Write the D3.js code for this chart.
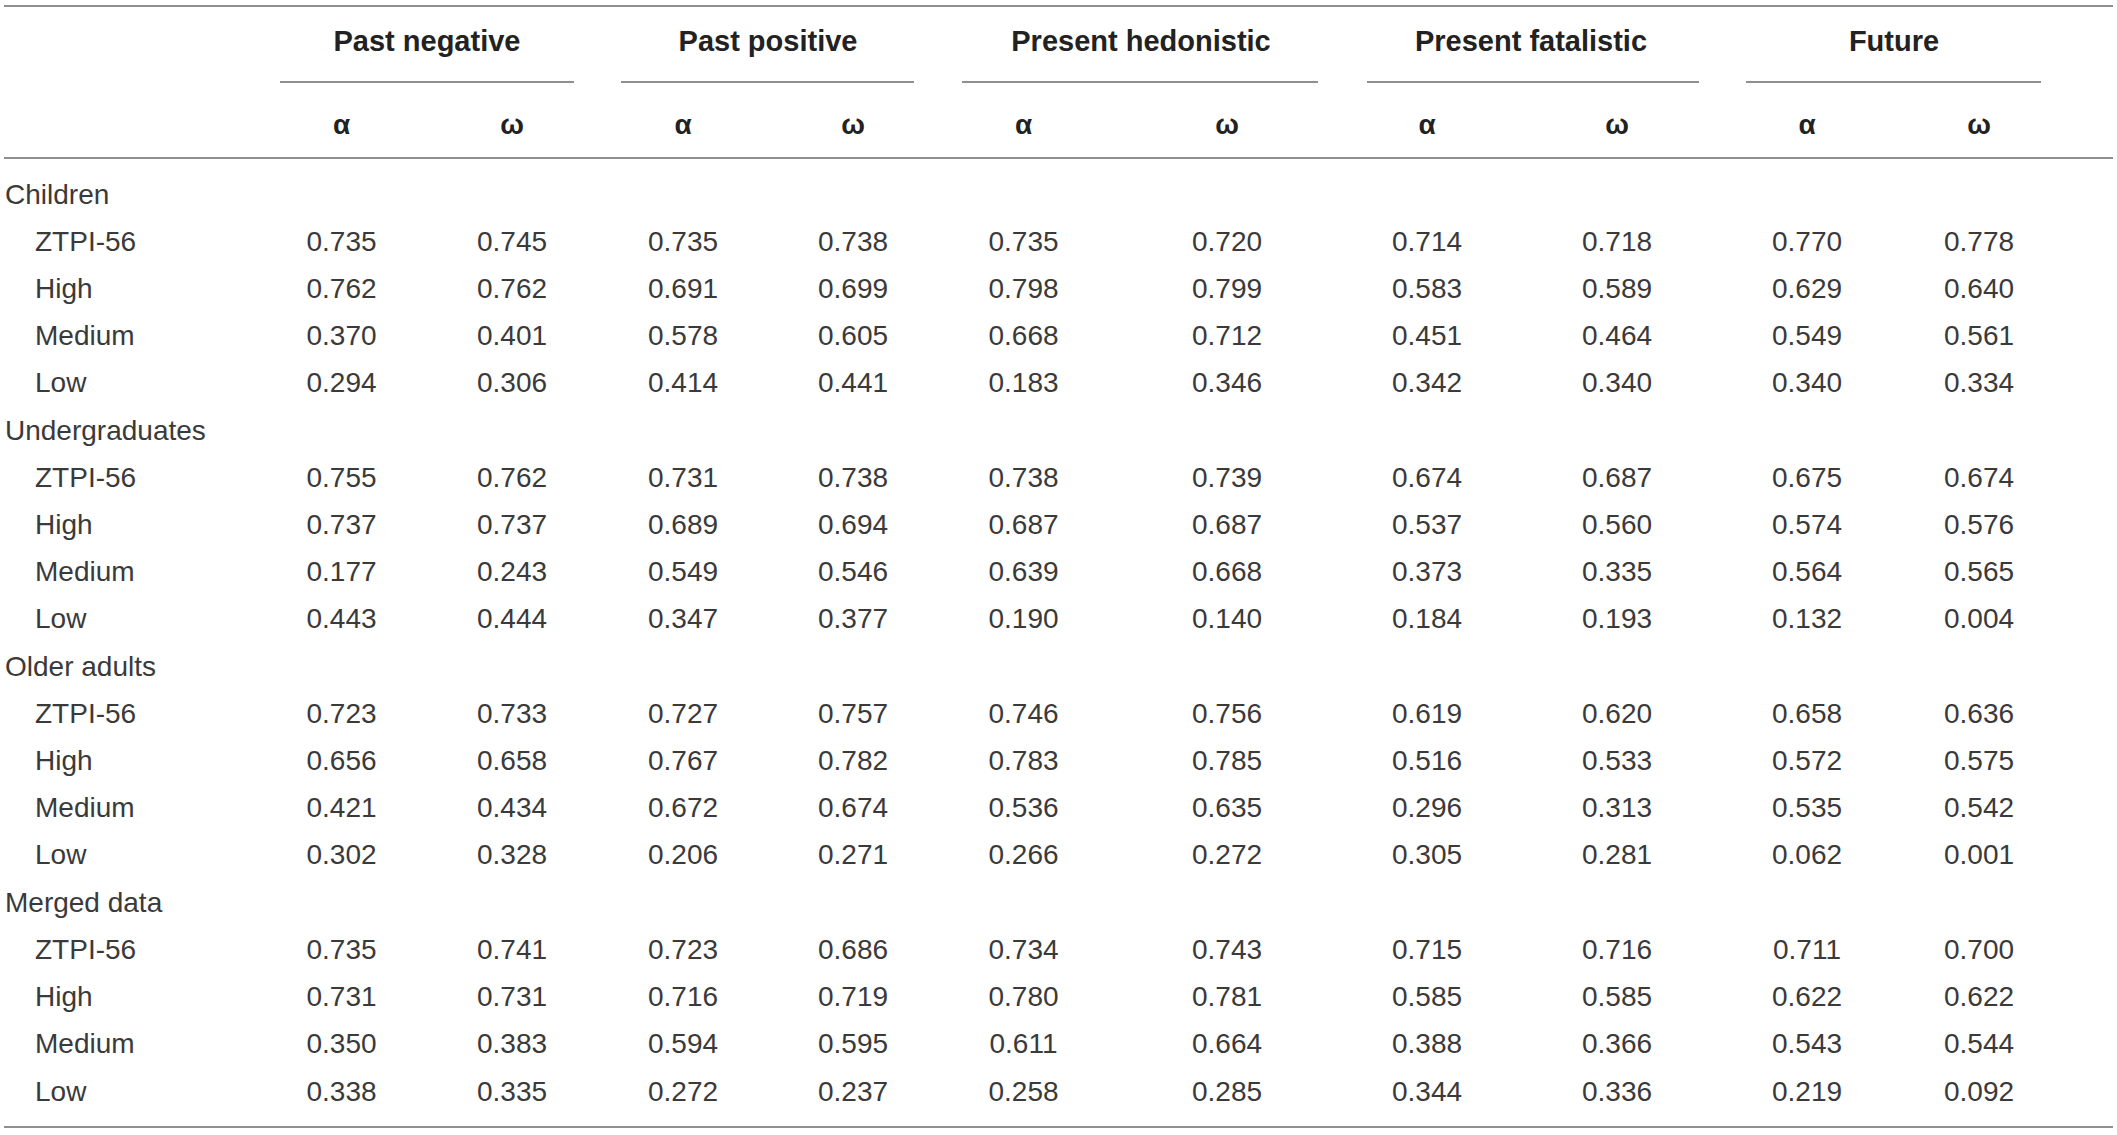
<!DOCTYPE html>
<html>
<head>
<meta charset="utf-8">
<script src="https://cdn.jsdelivr.net/npm/d3@7"></script>
<style>
  html, body { margin: 0; padding: 0; background: #ffffff; }
  svg { display: block; }
</style>
</head>
<body>
<div id="chart"></div>
<script>
// ---------- Data ----------
const dimensions = ["Past negative", "Past positive", "Present hedonistic", "Present fatalistic", "Future"];
const coefficients = ["α", "ω"];
const samples = ["Children", "Undergraduates", "Older adults", "Merged data"];
const versions = ["ZTPI-56", "High", "Medium", "Low"];

// each row: PN α, PN ω, PP α, PP ω, PH α, PH ω, PF α, PF ω, F α, F ω
const childrenValues = [
  [0.735, 0.745, 0.735, 0.738, 0.735, 0.720, 0.714, 0.718, 0.770, 0.778],
  [0.762, 0.762, 0.691, 0.699, 0.798, 0.799, 0.583, 0.589, 0.629, 0.640],
  [0.370, 0.401, 0.578, 0.605, 0.668, 0.712, 0.451, 0.464, 0.549, 0.561],
  [0.294, 0.306, 0.414, 0.441, 0.183, 0.346, 0.342, 0.340, 0.340, 0.334]
];
const undergraduatesValues = [
  [0.755, 0.762, 0.731, 0.738, 0.738, 0.739, 0.674, 0.687, 0.675, 0.674],
  [0.737, 0.737, 0.689, 0.694, 0.687, 0.687, 0.537, 0.560, 0.574, 0.576],
  [0.177, 0.243, 0.549, 0.546, 0.639, 0.668, 0.373, 0.335, 0.564, 0.565],
  [0.443, 0.444, 0.347, 0.377, 0.190, 0.140, 0.184, 0.193, 0.132, 0.004]
];
const olderAdultsValues = [
  [0.723, 0.733, 0.727, 0.757, 0.746, 0.756, 0.619, 0.620, 0.658, 0.636],
  [0.656, 0.658, 0.767, 0.782, 0.783, 0.785, 0.516, 0.533, 0.572, 0.575],
  [0.421, 0.434, 0.672, 0.674, 0.536, 0.635, 0.296, 0.313, 0.535, 0.542],
  [0.302, 0.328, 0.206, 0.271, 0.266, 0.272, 0.305, 0.281, 0.062, 0.001]
];
const mergedValues = [
  [0.735, 0.741, 0.723, 0.686, 0.734, 0.743, 0.715, 0.716, 0.711, 0.700],
  [0.731, 0.731, 0.716, 0.719, 0.780, 0.781, 0.585, 0.585, 0.622, 0.622],
  [0.350, 0.383, 0.594, 0.595, 0.611, 0.664, 0.388, 0.366, 0.543, 0.544],
  [0.338, 0.335, 0.272, 0.237, 0.258, 0.285, 0.344, 0.336, 0.219, 0.092]
];
const sampleValues = [childrenValues, undergraduatesValues, olderAdultsValues, mergedValues];

// ---------- Layout ----------
const W = 2117, H = 1135;
const FONT = "'Liberation Sans', Arial, Helvetica, sans-serif";
const textColor = "#3a3a3a";
const lineColor = "#8f8f8f";

const svg = d3.select("#chart").append("svg")
  .attr("width", W).attr("height", H)
  .attr("viewBox", `0 0 ${W} ${H}`);

// Column keys and positions
const colKeys = [];
dimensions.forEach((d, i) => coefficients.forEach((c, j) => colKeys.push(i * 2 + j)));
const colX = d3.scaleOrdinal()
  .domain(colKeys)
  .range([341.5, 512, 683, 853, 1023.5, 1227, 1427, 1617, 1807, 1979]);

const dimCenter = d3.scaleOrdinal().domain(dimensions).range([427, 768, 1141, 1531, 1894]);
const dimSpan = d3.scaleOrdinal().domain(dimensions)
  .range([[280, 574], [621, 914], [962, 1318], [1367, 1699], [1746, 2041]]);

// Rows
const rows = [];
samples.forEach((s, si) => {
  rows.push({ label: s, type: "group", values: null });
  versions.forEach((v, vi) => rows.push({ label: v, type: "sub", values: sampleValues[si][vi] }));
});
const rowY = d3.scaleLinear().domain([0, rows.length - 1]).range([203.5, 1100.5]);

const fmt = d3.format(".3f");

// ---------- Rules ----------
const hLines = [
  { x1: 4, x2: 2113, y: 6 },
  { x1: 4, x2: 2113, y: 158 },
  { x1: 4, x2: 2113, y: 1127 }
];
svg.selectAll("line.rule").data(hLines).enter().append("line")
  .attr("class", "rule")
  .attr("x1", d => d.x1).attr("x2", d => d.x2)
  .attr("y1", d => d.y).attr("y2", d => d.y)
  .attr("stroke", lineColor).attr("stroke-width", 2);

svg.selectAll("line.under").data(dimensions).enter().append("line")
  .attr("class", "under")
  .attr("x1", d => dimSpan(d)[0]).attr("x2", d => dimSpan(d)[1])
  .attr("y1", 82).attr("y2", 82)
  .attr("stroke", lineColor).attr("stroke-width", 2);

// ---------- Header text ----------
svg.selectAll("text.dim").data(dimensions).enter().append("text")
  .attr("class", "dim")
  .attr("x", d => dimCenter(d)).attr("y", 51)
  .attr("text-anchor", "middle")
  .attr("font-family", FONT).attr("font-size", 29).attr("font-weight", "bold")
  .attr("fill", "#222")
  .text(d => d);

svg.selectAll("text.coef").data(colKeys).enter().append("text")
  .attr("class", "coef")
  .attr("x", d => colX(d)).attr("y", 134)
  .attr("text-anchor", "middle")
  .attr("font-family", FONT).attr("font-size", 28).attr("font-weight", "bold")
  .attr("fill", "#222")
  .text(d => coefficients[d % 2]);

// ---------- Body ----------
const rowG = svg.selectAll("g.row").data(rows).enter().append("g")
  .attr("class", "row")
  .attr("transform", (d, i) => `translate(0,${rowY(i)})`);

rowG.append("text")
  .attr("x", d => d.type === "group" ? 5 : 35)
  .attr("y", 0)
  .attr("font-family", FONT).attr("font-size", 28)
  .attr("fill", textColor)
  .text(d => d.label);

rowG.filter(d => d.values).selectAll("text.val")
  .data(d => d.values)
  .enter().append("text")
  .attr("class", "val")
  .attr("x", (v, j) => colX(j))
  .attr("y", 0)
  .attr("text-anchor", "middle")
  .attr("font-family", FONT).attr("font-size", 28)
  .attr("fill", textColor)
  .text(v => fmt(v));
</script>
</body>
</html>
